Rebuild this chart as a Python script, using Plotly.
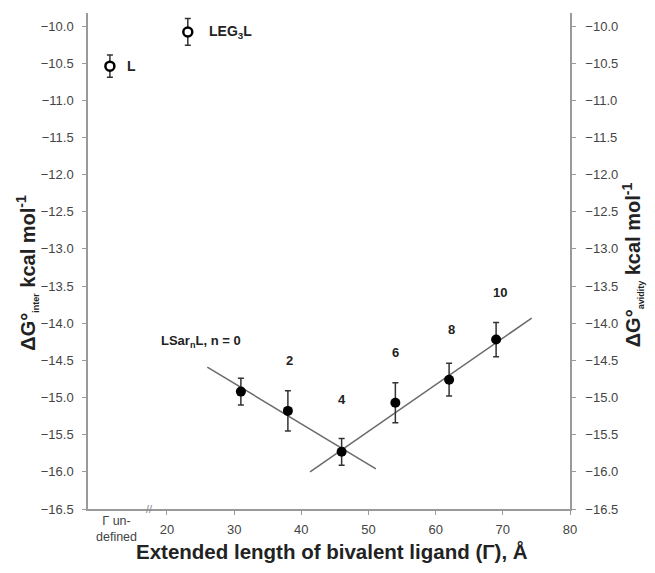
import plotly.graph_objects as go

# Data
open_x = [11.5, 23.1]
open_y = [-10.54, -10.08]
open_err = [0.15, 0.18]
open_labels = ["L", "LEG<sub>3</sub>L"]

n_vals = [0, 2, 4, 6, 8, 10]
filled_x = [31, 38, 46, 54, 62, 69]
filled_y = [-14.92, -15.18, -15.73, -15.07, -14.76, -14.22]
filled_err = [0.18, 0.27, 0.18, 0.27, 0.22, 0.23]

fit1_x = [26.0, 51.1]
fit1_y = [-14.59, -15.96]
fit2_x = [41.3, 74.3]
fit2_y = [-16.0, -13.93]

label_x = [25.0, 38.3, 46.0, 54.0, 62.3, 69.6]
label_y = [-14.24, -14.50, -15.02, -14.40, -14.08, -13.58]
label_text = ["LSar<sub>n</sub>L, n = 0", "2", "4", "6", "8", "10"]

x_ticks = [20, 30, 40, 50, 60, 70, 80]
y_ticks = [-10.0 - 0.5 * i for i in range(14)]

FONT = "Liberation Sans, Arial, sans-serif"
AX = "#9a9a9a"

fig = go.Figure()

fig.add_trace(go.Scatter(x=fit1_x, y=fit1_y, mode="lines",
                         line=dict(color="#6a6a6a", width=1.5), showlegend=False))
fig.add_trace(go.Scatter(x=fit2_x, y=fit2_y, mode="lines",
                         line=dict(color="#6a6a6a", width=1.5), showlegend=False))

fig.add_trace(go.Scatter(
    x=filled_x, y=filled_y, mode="markers",
    marker=dict(color="black", size=10),
    error_y=dict(type="data", array=filled_err, color="#333", thickness=1.5, width=3),
    showlegend=False))

fig.add_trace(go.Scatter(
    x=open_x, y=open_y, mode="markers",
    marker=dict(color="white", size=9, line=dict(color="black", width=2.5)),
    error_y=dict(type="data", array=open_err, color="#333", thickness=1.5, width=3),
    showlegend=False))

# dummy trace for right axis
fig.add_trace(go.Scatter(x=[None], y=[None], yaxis="y2", showlegend=False))

annotations = []
for x, y, t, sh in zip(open_x, open_y, open_labels, [15, 19]):
    annotations.append(dict(x=x, y=y, text="<b>" + t + "</b>", showarrow=False,
                            xanchor="left", xshift=sh, font=dict(size=14, color="#222", family=FONT)))
for x, y, t in zip(label_x, label_y, label_text):
    annotations.append(dict(x=x, y=y, text="<b>" + t + "</b>", showarrow=False,
                            font=dict(size=13, color="#222", family=FONT)))

annotations.append(dict(x=12.5, y=-16.5, yref="y", text="Γ un-<br>defined", showarrow=False,
                        yanchor="top", yshift=-3, font=dict(size=12.5, color="#444", family=FONT)))
annotations.append(dict(x=17.4, y=-16.5, text="//", showarrow=False,
                        font=dict(size=11, color="#888", family=FONT)))

annotations.append(dict(xref="paper", yref="paper", x=0.5, y=0, yanchor="top", yshift=-29,
                        xshift=3,
                        text="<b>Extended length of bivalent ligand (Γ), Å</b>", showarrow=False,
                        font=dict(size=20.5, color="#222", family=FONT)))
annotations.append(dict(xref="paper", yref="y", x=0, y=-13.32, xshift=-61, xanchor="center",
                        yanchor="middle", textangle=-90,
                        text="<b>ΔG°<sub><span style='font-size:9px'>inter</span></sub> kcal mol<sup>-1</sup></b>",
                        showarrow=False, font=dict(size=20, color="#222", family=FONT)))
annotations.append(dict(xref="paper", yref="y", x=1, y=-13.22, xshift=63, xanchor="center",
                        yanchor="middle", textangle=-90,
                        text="<b>ΔG°<sub><span style='font-size:9px'>avidity</span></sub> kcal mol<sup>-1</sup></b>",
                        showarrow=False, font=dict(size=20, color="#222", family=FONT)))

fig.update_layout(
    width=655, height=573,
    margin=dict(l=88, r=85, t=13, b=64),
    paper_bgcolor="white", plot_bgcolor="white",
    font=dict(family=FONT, color="#444", size=12),
    xaxis=dict(range=[8.24, 80], tickvals=x_ticks, ticks="outside", ticklen=4,
               tickcolor=AX, showline=True, linecolor=AX, linewidth=1.5, ticklabelstandoff=4,
               showgrid=False, zeroline=False, tickfont=dict(size=13, color="#444")),
    yaxis=dict(range=[-16.5, -9.825], tickvals=y_ticks, tickformat=".1f", ticks="outside",
               ticklen=4, tickcolor=AX, showline=True, linecolor=AX, linewidth=1.5,
               ticklabelstandoff=6,
               showgrid=False, zeroline=False, tickfont=dict(size=13, color="#444")),
    yaxis2=dict(range=[-16.5, -9.825], tickvals=y_ticks, tickformat=".1f", ticks="outside",
                ticklen=4, tickcolor=AX, showline=True, linecolor=AX, linewidth=1.5,
                ticklabelstandoff=7,
                overlaying="y", side="right", showgrid=False, zeroline=False,
                tickfont=dict(size=13, color="#444")),
    annotations=annotations,
)

fig.write_html("out.html")
